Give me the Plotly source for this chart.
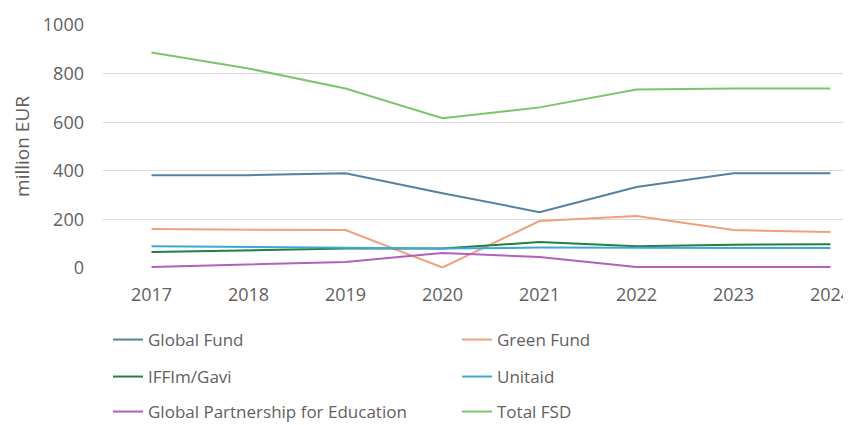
import plotly.graph_objects as go

years = [2017, 2018, 2019, 2020, 2021, 2022, 2023, 2024]
global_fund = [382, 382, 390, 308, 230, 333, 390, 390]
green_fund = [160, 158, 156, 2, 193, 214, 156, 148]
iffim_gavi = [66, 72, 80, 80, 107, 90, 96, 98]
unitaid = [90, 86, 82, 80, 84, 82, 82, 82]
gpe = [4, 15, 25, 62, 45, 4, 4, 4]
total_fsd = [887, 821, 739, 616, 661, 735, 739, 739]

series = [
    ("Global Fund", global_fund, "#55809f", "legend"),
    ("Green Fund", green_fund, "#f0a07c", "legend"),
    ("IFFIm/Gavi", iffim_gavi, "#23803f", "legend2"),
    ("Unitaid", unitaid, "#3fa8d8", "legend2"),
    ("Global Partnership for Education", gpe, "#b260b8", "legend3"),
    ("Total FSD", total_fsd, "#7cc46c", "legend3"),
]

fig = go.Figure()
for name, vals, color, lg in series:
    fig.add_trace(go.Scatter(x=years, y=vals, name=name, mode="lines",
                             line=dict(color=color, width=2), legend=lg))

# the page offsets the figure by 8px (body margin); positions below compensate
OFF = 8
W, H = 851, 425
font_col = "#5f5f5f"
fam = "Open Sans, Liberation Sans, sans-serif"
leg_common = dict(orientation="h", xref="container", yref="container",
                  x=(108 - OFF) / W, xanchor="left", yanchor="middle",
                  entrywidth=304, entrywidthmode="pixels",
                  font=dict(family=fam, size=17, color=font_col),
                  bgcolor="rgba(0,0,0,0)", borderwidth=0)

fig.update_layout(
    width=W, height=H,
    paper_bgcolor="white", plot_bgcolor="white",
    margin=dict(l=103 - OFF, r=OFF, t=25 - OFF, b=H - (268 - OFF), autoexpand=False),
    font=dict(family=fam, size=18, color=font_col),
    showlegend=True,
    legend=dict(leg_common, y=1 - (340 - OFF) / H),
    legend2=dict(leg_common, y=1 - (377 - OFF) / H),
    legend3=dict(leg_common, y=1 - (412 - OFF) / H),
    xaxis=dict(range=[2016.5, 2016.5 + 748 / 97], tickmode="array", tickvals=years,
               ticktext=[str(y) for y in years], showgrid=False, zeroline=False,
               showline=False, ticks="", ticklabelstandoff=14, automargin=False,
               tickfont=dict(size=18, color=font_col)),
    yaxis=dict(range=[0, 1000], dtick=200, showgrid=True, gridcolor="#d9d9d9",
               gridwidth=1, zeroline=False, showline=False, ticks="",
               ticklabelstandoff=18, automargin=False,
               tickfont=dict(size=18, color=font_col),
               title=dict(text="million EUR", standoff=8,
                          font=dict(size=19, color=font_col))),
)

fig.write_html("out.html")
